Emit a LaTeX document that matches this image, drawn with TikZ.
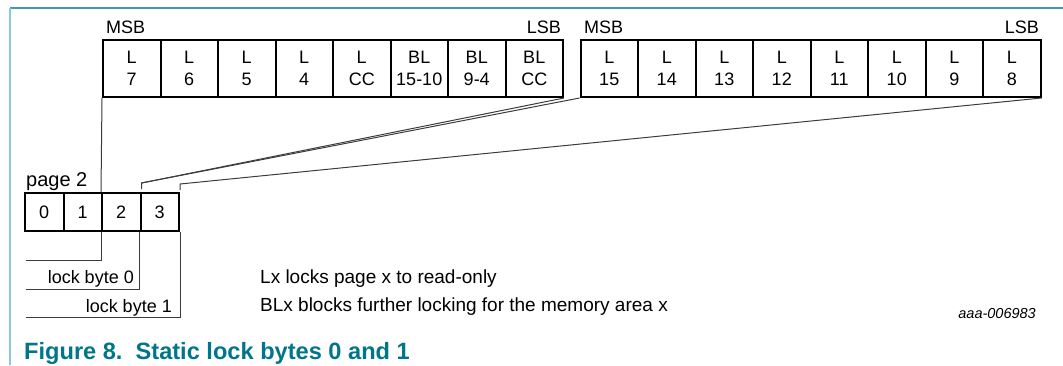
\documentclass[tikz,border=0pt]{standalone}
\usepackage{fontspec}
\setmainfont{Liberation Sans}
\definecolor{framedark}{RGB}{60,155,178}
\definecolor{framelight}{RGB}{140,200,215}
\definecolor{captioncol}{RGB}{0,118,138}
\definecolor{thinline}{RGB}{60,60,60}
\begin{document}
\begin{tikzpicture}[x=1pt,y=-1pt,
  txt/.style={inner sep=0pt,font=\fontsize{18}{22}\selectfont},
  bitcell/.style={draw=black,line width=2pt,minimum width=57.5pt,minimum height=57pt,inner sep=0pt,align=center,font=\fontsize{18}{22}\selectfont},
  pgcell/.style={draw=black,line width=2pt,minimum width=38.5pt,minimum height=38pt,inner sep=0pt,font=\fontsize{18}{22}\selectfont},
  conn/.style={draw=thinline,line width=1pt}]
\useasboundingbox (0,0) rectangle (1063,365);
% frame
\draw[framedark,line width=1.5pt] (10,8) -- (1063,8);
\draw[framelight,line width=1.5pt] (10,8) -- (10,365);
% first byte group
\foreach \i/\t in {1/{L\\7},2/{L\\6},3/{L\\5},4/{L\\4},5/{L\\CC},6/{BL\\15-10},7/{BL\\9-4},8/{BL\\CC}}{
  \node[bitcell] (a\i) at ({103+57.5*(\i-0.5)},68.5) {\t};
}
\foreach \i/\t in {1/{L\\15},2/{L\\14},3/{L\\13},4/{L\\12},5/{L\\11},6/{L\\10},7/{L\\9},8/{L\\8}}{
  \node[bitcell] (b\i) at ({580.5+57.5*(\i-0.5)},68.5) {\t};
}
\node[txt,anchor=base west] (msb1) at (106,33) {MSB};
\node[txt,anchor=base east] (lsb1) at (561,33) {LSB};
\node[txt,anchor=base west] (msb2) at (584,33) {MSB};
\node[txt,anchor=base east] (lsb2) at (1039,33) {LSB};
% page 2
\foreach \i in {0,1,2,3}{
  \node[pgcell] (p\i) at ({25+38.5*(\i+0.5)},212) {\i};
}
\node[inner sep=0pt,anchor=base west,font=\fontsize{20}{24}\selectfont] (pagelbl) at (26,186) {page 2};
% connectors top
\coordinate (brA) at (141.5,183);
\coordinate (brAe) at (141.5,189);
\coordinate (brB) at (180,184);
\coordinate (brBe) at (180,190);
\draw[conn] (a1.south west) -- (p2.north west);
\draw[conn] (a8.south east) -- (brA) -- (brAe);
\draw[conn] (b1.south west) -- (brA);
\draw[conn] (b8.south east) -- (brB) -- (brBe);
% connectors bottom
\coordinate (e0) at (26,260);
\coordinate (e1) at (26,289);
\coordinate (e2) at (26,317);
\draw[conn] (p2.south west) |- (e0);
\draw[conn] (p3.south west) |- (e1);
\draw[conn] (p3.south east) |- (e2);
\node[txt,anchor=base east] (lb0) at (134,283) {lock byte 0};
\node[txt,anchor=base east] (lb1) at (172,312) {lock byte 1};
\node[inner sep=0pt,anchor=base west,font=\fontsize{19}{22}\selectfont] (leg1) at (260,283) {Lx locks page x to read-only};
\node[inner sep=0pt,anchor=base west,font=\fontsize{19}{22}\selectfont] (leg2) at (260,311) {BLx blocks further locking for the memory area x};
\node[inner sep=0pt,anchor=base east,font=\fontsize{14.5}{17}\selectfont\itshape] (ref) at (1036,318) {aaa-006983};
\node[inner sep=0pt,anchor=base west,font=\fontsize{23.6}{27}\selectfont\bfseries,text=captioncol] (cap) at (24,359) {Figure 8.\ \ Static lock bytes 0 and 1};
\end{tikzpicture}
\end{document}
